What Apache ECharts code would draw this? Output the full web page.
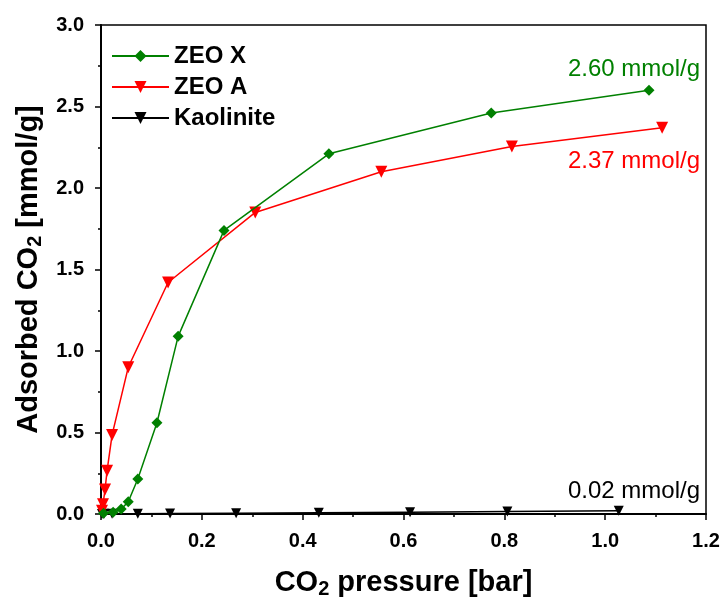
<!DOCTYPE html>
<html>
<head>
<meta charset="utf-8">
<script src="https://cdn.jsdelivr.net/npm/echarts@6/dist/echarts.min.js"></script>
<style>
  html, body { margin: 0; padding: 0; background: #fff; }
  #main { width: 721px; height: 598px; }
</style>
</head>
<body>
<div id="main"></div>
<script>
// 数据 (pressure [bar], adsorbed CO2 [mmol/g])
var zeoXPressure = [0.005, 0.024, 0.040, 0.054, 0.073, 0.111, 0.153, 0.244, 0.452, 0.774, 1.087];
var zeoXAmount   = [0.005, 0.010, 0.030, 0.075, 0.215, 0.560, 1.090, 1.740, 2.210, 2.460, 2.600];

var zeoAPressure = [0.002, 0.004, 0.008, 0.012, 0.022, 0.054, 0.133, 0.306, 0.556, 0.815, 1.113];
var zeoAAmount   = [0.020, 0.060, 0.150, 0.265, 0.485, 0.900, 1.420, 1.850, 2.100, 2.255, 2.370];

var kaoPressure = [0.002, 0.006, 0.022, 0.073, 0.137, 0.268, 0.432, 0.613, 0.806, 1.027];
var kaoAmount   = [0.000, 0.001, 0.001, 0.002, 0.003, 0.005, 0.008, 0.011, 0.015, 0.020];

var seriesNames = ['ZEO X', 'ZEO A', 'Kaolinite'];
var finalLabels = ['2.60 mmol/g', '2.37 mmol/g', '0.02 mmol/g'];

function pairs(xs, ys) {
    var out = [];
    for (var i = 0; i < xs.length; i++) { out.push([xs[i], ys[i]]); }
    return out;
}

var FONT = '"Liberation Sans", Arial, sans-serif';
var myChart = echarts.init(document.getElementById('main'));

var option = {
    backgroundColor: '#fff',
    animation: false,
    textStyle: { fontFamily: FONT },
    grid: {
        left: 101, right: 15, top: 25, bottom: 84,
        outerBoundsMode: 'none',
        containLabel: false,
        show: true, borderColor: '#000', borderWidth: 1.5
    },
    legend: {
        data: seriesNames,
        orient: 'vertical',
        left: 106,
        top: 39,
        itemWidth: 57,
        itemHeight: 15,
        itemGap: 7,
        textStyle: { fontSize: 24, fontWeight: 'bold', color: '#000', fontFamily: FONT }
    },
    xAxis: {
        type: 'value',
        min: 0, max: 1.2, interval: 0.2,
        name: 'CO{sub|2} pressure [bar]',
        nameLocation: 'middle',
        nameGap: 52,
        nameTextStyle: {
            fontSize: 29, fontWeight: 'bold', color: '#000', fontFamily: FONT,
            rich: { sub: { fontSize: 20, fontWeight: 'bold', color: '#000', fontFamily: FONT, padding: [13, 0, 0, 0] } }
        },
        axisLine: { onZero: false, lineStyle: { color: '#000', width: 2 } },
        axisTick: { inside: false, length: 6, lineStyle: { color: '#000', width: 1.5 } },
        minorTick: { show: true, splitNumber: 2, length: 3, lineStyle: { color: '#000', width: 1.5 } },
        splitLine: { show: false },
        axisLabel: {
            margin: 17, fontSize: 20, fontWeight: 'bold', color: '#000', fontFamily: FONT,
            formatter: function (v) { return v.toFixed(1); }
        }
    },
    yAxis: {
        type: 'value',
        min: 0, max: 3, interval: 0.5,
        name: 'Adsorbed CO{sub|2} [mmol/g]',
        nameLocation: 'middle',
        nameGap: 51,
        nameTextStyle: {
            fontSize: 29, fontWeight: 'bold', color: '#000', fontFamily: FONT,
            rich: { sub: { fontSize: 20, fontWeight: 'bold', color: '#000', fontFamily: FONT, padding: [13, 0, 0, 0] } }
        },
        axisLine: { onZero: false, lineStyle: { color: '#000', width: 2 } },
        axisTick: { inside: false, length: 6, lineStyle: { color: '#000', width: 1.5 } },
        minorTick: { show: true, splitNumber: 2, length: 3, lineStyle: { color: '#000', width: 1.5 } },
        splitLine: { show: false },
        axisLabel: {
            margin: 17, fontSize: 20, fontWeight: 'bold', color: '#000', fontFamily: FONT,
            formatter: function (v) { return v.toFixed(1); }
        }
    },
    series: [
        {
            name: seriesNames[0],
            type: 'line',
            data: pairs(zeoXPressure, zeoXAmount),
            color: '#008000',
            symbol: 'diamond',
            symbolSize: 11,
            lineStyle: { width: 1.5 },
            clip: false,
            z: 4
        },
        {
            name: seriesNames[1],
            type: 'line',
            data: pairs(zeoAPressure, zeoAAmount),
            color: '#ff0000',
            symbol: 'triangle',
            symbolRotate: 180,
            symbolSize: 12,
            lineStyle: { width: 1.5 },
            clip: false,
            z: 3
        },
        {
            name: seriesNames[2],
            type: 'line',
            data: pairs(kaoPressure, kaoAmount),
            color: '#000000',
            symbol: 'triangle',
            symbolRotate: 180,
            symbolSize: 10,
            lineStyle: { width: 1.5 },
            z: 2
        }
    ],
    graphic: [
        { type: 'text', right: 21, top: 57,  style: { text: finalLabels[0], fill: '#008000', font: '24px ' + FONT } },
        { type: 'text', right: 21, top: 149, style: { text: finalLabels[1], fill: '#ff0000', font: '24px ' + FONT } },
        { type: 'text', right: 21, top: 479, style: { text: finalLabels[2], fill: '#000000', font: '24px ' + FONT } }
    ]
};

myChart.setOption(option);
window.onresize = function () { myChart.resize(); };
</script>
</body>
</html>
